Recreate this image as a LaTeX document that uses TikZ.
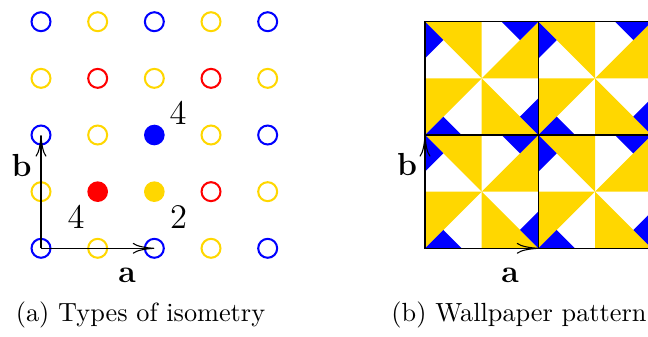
\documentclass[tikz,border=0pt]{standalone}
\usetikzlibrary{arrows.meta}
\definecolor{cblue}{RGB}{0,0,255}
\definecolor{cyel}{RGB}{255,215,0}
\definecolor{cred}{RGB}{255,0,0}
\begin{document}
\begin{tikzpicture}[x={(0.41667pt,0)}, y={(0,-0.41667pt)},
  ring/.style={circle, draw=#1, line width=0.85pt, minimum size=7.9pt, inner sep=0pt},
  dot/.style={circle, fill=#1, minimum size=8.6pt, inner sep=0pt},
  vec/.style={-{To[length=9pt,width=4.5pt]}, line width=0.45pt},
  lbl/.style={inner sep=0pt, font=\fontsize{14.4}{17}\selectfont},
  vlbl/.style={inner sep=0pt, font=\fontsize{13.3}{16}\selectfont\bfseries},
  captext/.style={inner sep=0pt, font=\fontsize{10.95}{13}\selectfont, anchor=base},
  cellline/.style={line width=0.45pt, draw=black}]
\useasboundingbox (0,0) rectangle (648,336);
% ---------- (a) lattice of rotation centres ----------
% row 0
\node[ring=cblue] (p00) at (41,21.7) {};
\node[ring=cyel]  (p01) at (97.67,21.7) {};
\node[ring=cblue] (p02) at (154.33,21.7) {};
\node[ring=cyel]  (p03) at (211,21.7) {};
\node[ring=cblue] (p04) at (267.67,21.7) {};
% row 1
\node[ring=cyel]  (p10) at (41,78.35) {};
\node[ring=cred]  (p11) at (97.67,78.35) {};
\node[ring=cyel]  (p12) at (154.33,78.35) {};
\node[ring=cred]  (p13) at (211,78.35) {};
\node[ring=cyel]  (p14) at (267.67,78.35) {};
% row 2
\node[ring=cblue] (p20) at (41,135) {};
\node[ring=cyel]  (p21) at (97.67,135) {};
\node[dot=cblue]  (p22) at (154.33,135) {};
\node[ring=cyel]  (p23) at (211,135) {};
\node[ring=cblue] (p24) at (267.67,135) {};
% row 3
\node[ring=cyel]  (p30) at (41,191.65) {};
\node[dot=cred]   (p31) at (97.67,191.65) {};
\node[dot=cyel]   (p32) at (154.33,191.65) {};
\node[ring=cred]  (p33) at (211,191.65) {};
\node[ring=cyel]  (p34) at (267.67,191.65) {};
% row 4
\node[ring=cblue] (p40) at (41,248.3) {};
\node[ring=cyel]  (p41) at (97.67,248.3) {};
\node[ring=cblue] (p42) at (154.33,248.3) {};
\node[ring=cyel]  (p43) at (211,248.3) {};
\node[ring=cblue] (p44) at (267.67,248.3) {};
% lattice vectors
\draw[vec] (p40.center) -- (p42.center);
\draw[vec] (p40.center) -- (p20.center);
% labels
\node[lbl] (l4a) at (178,113) {4};
\node[lbl] (l4b) at (76,217) {4};
\node[lbl] (l2) at (178.5,217) {2};
\node[vlbl] (lb) at (21.5,166) {b};
\node[vlbl] (la) at (127,275.5) {a};
\node[captext] (capa) at (140.5,321.7) {(a) Types of isometry};
% ---------- (b) wallpaper pattern ----------
\begin{scope}
\clip (0,0) rectangle (648,336);
\foreach \X in {425,538.33}{
 \foreach \Y in {21.7,135}{
  \begin{scope}[shift={(\X,\Y)}, scale=113.33]
   \fill[cyel] (0,0) -- (.5,0) -- (.5,.5) -- cycle;
   \fill[cyel] (1,0) -- (1,.5) -- (.5,.5) -- cycle;
   \fill[cyel] (1,1) -- (.5,1) -- (.5,.5) -- cycle;
   \fill[cyel] (0,1) -- (0,.5) -- (.5,.5) -- cycle;
   \fill[cblue] (0,0) -- (.162,.162) -- (0,.324) -- cycle;
   \fill[cblue] (1,0) -- (.838,.162) -- (.676,0) -- cycle;
   \fill[cblue] (1,1) -- (.838,.838) -- (1,.676) -- cycle;
   \fill[cblue] (0,1) -- (.162,.838) -- (.324,1) -- cycle;
   \draw[cellline] (0,0) rectangle (1,1);
  \end{scope}
 }
}
\end{scope}
\coordinate (o) at (425,248.3);
\coordinate (ea) at (538.33,248.3);
\coordinate (eb) at (425,135);
\draw[vec] (o) -- (ea);
\draw[vec] (o) -- (eb);
\node[vlbl] (rb) at (407,165) {b};
\node[vlbl] (ra) at (510,275.5) {a};
\node[captext, anchor=base west] (capb) at (391,321.7) {(b) Wallpaper pattern};
\end{tikzpicture}
\end{document}
